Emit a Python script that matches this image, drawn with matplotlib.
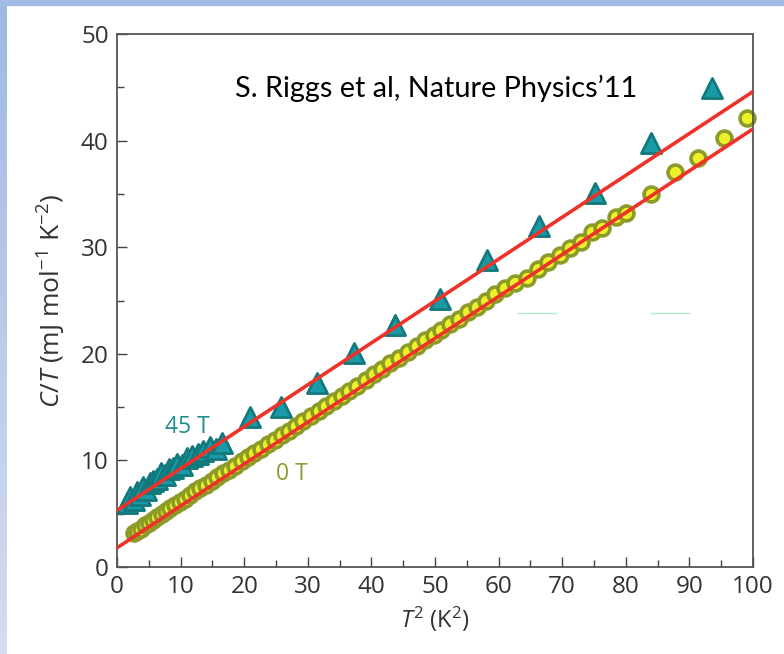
import numpy as np
import matplotlib
matplotlib.use("Agg")
import matplotlib.pyplot as plt
from matplotlib.patches import Rectangle

# 0 T data (circles)
t2_0T = [2.6, 3.2, 3.8, 4.4, 5.0, 5.6, 6.3, 7.0, 7.7, 8.4, 9.1, 9.9, 10.7, 11.5,
         12.3, 13.1, 14.0, 14.9, 15.8, 16.7, 17.6, 18.6, 19.6, 20.6, 21.6, 22.6,
         23.7, 24.8, 25.9, 27.0, 28.1, 29.3, 30.5, 31.7, 32.9, 34.1, 35.3, 36.5,
         37.8, 39.1, 40.4, 41.7, 43.0, 44.3, 45.7, 47.1, 48.5, 49.9, 51.0, 52.4,
         53.8, 55.2, 56.6, 58.0, 59.5, 61.0, 62.6, 64.5, 66.2, 67.8, 69.7, 71.3,
         72.9, 74.7, 76.3, 78.4, 80.1, 84.0, 87.8, 91.4, 95.4, 99.1]
ct_0T = [3.2, 3.4, 3.6, 3.9, 4.1, 4.4, 4.7, 5.0, 5.3, 5.5, 5.8, 6.1, 6.4, 6.8,
         7.1, 7.4, 7.7, 8.1, 8.4, 8.8, 9.1, 9.5, 9.9, 10.3, 10.7, 11.1,
         11.5, 11.9, 12.4, 12.8, 13.2, 13.7, 14.2, 14.6, 15.1, 15.6, 16.0, 16.5,
         17.0, 17.5, 18.1, 18.6, 19.1, 19.6, 20.2, 20.7, 21.3, 21.8, 22.2, 22.8,
         23.3, 23.9, 24.4, 25.0, 25.6, 26.2, 26.6, 27.1, 28.0, 28.6, 29.3, 29.9,
         30.5, 31.4, 31.8, 32.8, 33.2, 35.0, 37.1, 38.4, 40.2, 42.1]

# 45 T data (triangles)
t2_45T = [1.5, 2.0, 2.6, 3.1, 3.6, 4.1, 4.6, 5.2, 5.7, 6.3, 6.9, 7.5, 8.1, 8.8,
          9.5, 10.2, 11.0, 11.8, 12.7, 13.6, 14.6, 15.6, 16.5, 20.9, 25.8, 31.5,
          37.2, 43.7, 50.8, 58.2, 66.3, 75.2, 83.9, 93.6]
ct_45T = [6.0, 6.6, 6.3, 7.0, 6.8, 7.5, 7.2, 7.9, 8.1, 8.3, 8.8, 8.6, 9.2, 9.3,
          9.7, 9.6, 10.2, 10.4, 10.6, 10.9, 11.3, 11.1, 11.6, 14.1, 15.0, 17.3,
          20.1, 22.7, 25.1, 28.8, 32.0, 35.1, 39.8, 44.9]

# linear fits (gamma + beta*T^2)
fit_x = [0, 100]
fit_45T = [5.3, 44.6]
fit_0T = [1.8, 41.1]

plt.rcParams['font.family'] = ['Open Sans', 'DejaVu Sans']
plt.rcParams['mathtext.fontset'] = 'custom'
plt.rcParams['mathtext.rm'] = 'Open Sans'
plt.rcParams['mathtext.it'] = 'Open Sans:italic'

fig = plt.figure(figsize=(7.84, 6.54), dpi=100)

# slide background strips
grad = np.linspace(0, 1, 256).reshape(-1, 1)
bg = fig.add_axes([0, 0, 7 / 784, 1], zorder=-5)
bg.imshow(grad, aspect='auto', cmap=matplotlib.colors.LinearSegmentedColormap.from_list(
    'g', ['#9fb8e2', '#d4ddf0']), extent=[0, 1, 0, 1])
bg.axis('off')
fig.patches.append(Rectangle((0, 1 - 5 / 654), 1, 5 / 654, transform=fig.transFigure,
                             color='#a3bbe4', zorder=-4))

ax = fig.add_axes([117 / 784, 1 - 567 / 654, 636 / 784, 533 / 654])

ax.plot(fit_x, fit_45T, color='#ee3228', lw=2.6, zorder=3)
ax.plot(fit_x, fit_0T, color='#ee3228', lw=2.6, zorder=3)
ax.scatter(t2_45T, ct_45T, marker='^', s=210, color='#1a9aa6', edgecolor='#127a7c',
           linewidth=2, zorder=2, clip_on=False)
ax.scatter(t2_0T, ct_0T, marker='o', s=115, color='#eef02a', edgecolor='#8c9a28',
           linewidth=2.6, zorder=2, clip_on=False)

# faint green scan artifacts
ax.plot([63, 69], [23.8, 23.8], color='#3cc878', lw=1.0, alpha=0.4)
ax.plot([84, 90], [23.8, 23.8], color='#3cc878', lw=1.0, alpha=0.4)

ax.text(7.6, 12.6, '45 T', color='#1f8c90', fontsize=16.5)
ax.text(25, 8.2, '0 T', color='#8e9a32', fontsize=16.5)
ax.text(18.5, 44.1, 'S. Riggs et al, Nature Physics\u201911', color='black', fontsize=20.8,
        family='Lato')

ax.set_xlim(0, 100)
ax.set_ylim(0, 50)
ax.set_xticks(range(0, 101, 10))
ax.set_xticks(range(5, 100, 10), minor=True)
ax.set_yticks(range(0, 51, 10))
ax.set_yticks(range(5, 50, 10), minor=True)
ax.tick_params(which='both', direction='in', colors='#444444', labelcolor='#333333',
               labelsize=17.5, top=False, right=False)
ax.tick_params(which='major', length=7, width=1, pad=6)
ax.tick_params(which='minor', length=5, width=1)
for s in ax.spines.values():
    s.set_color('#555555')
    s.set_linewidth(1.3)

ax.set_xlabel(r'$T^2$ (K$^2$)', fontsize=17, color='#333333', labelpad=4)
ax.set_ylabel(r'$C/T$ (mJ mol$^{-1}$ K$^{-2}$)', fontsize=19, color='#333333', labelpad=9)

fig.savefig('out.png', dpi=100)
